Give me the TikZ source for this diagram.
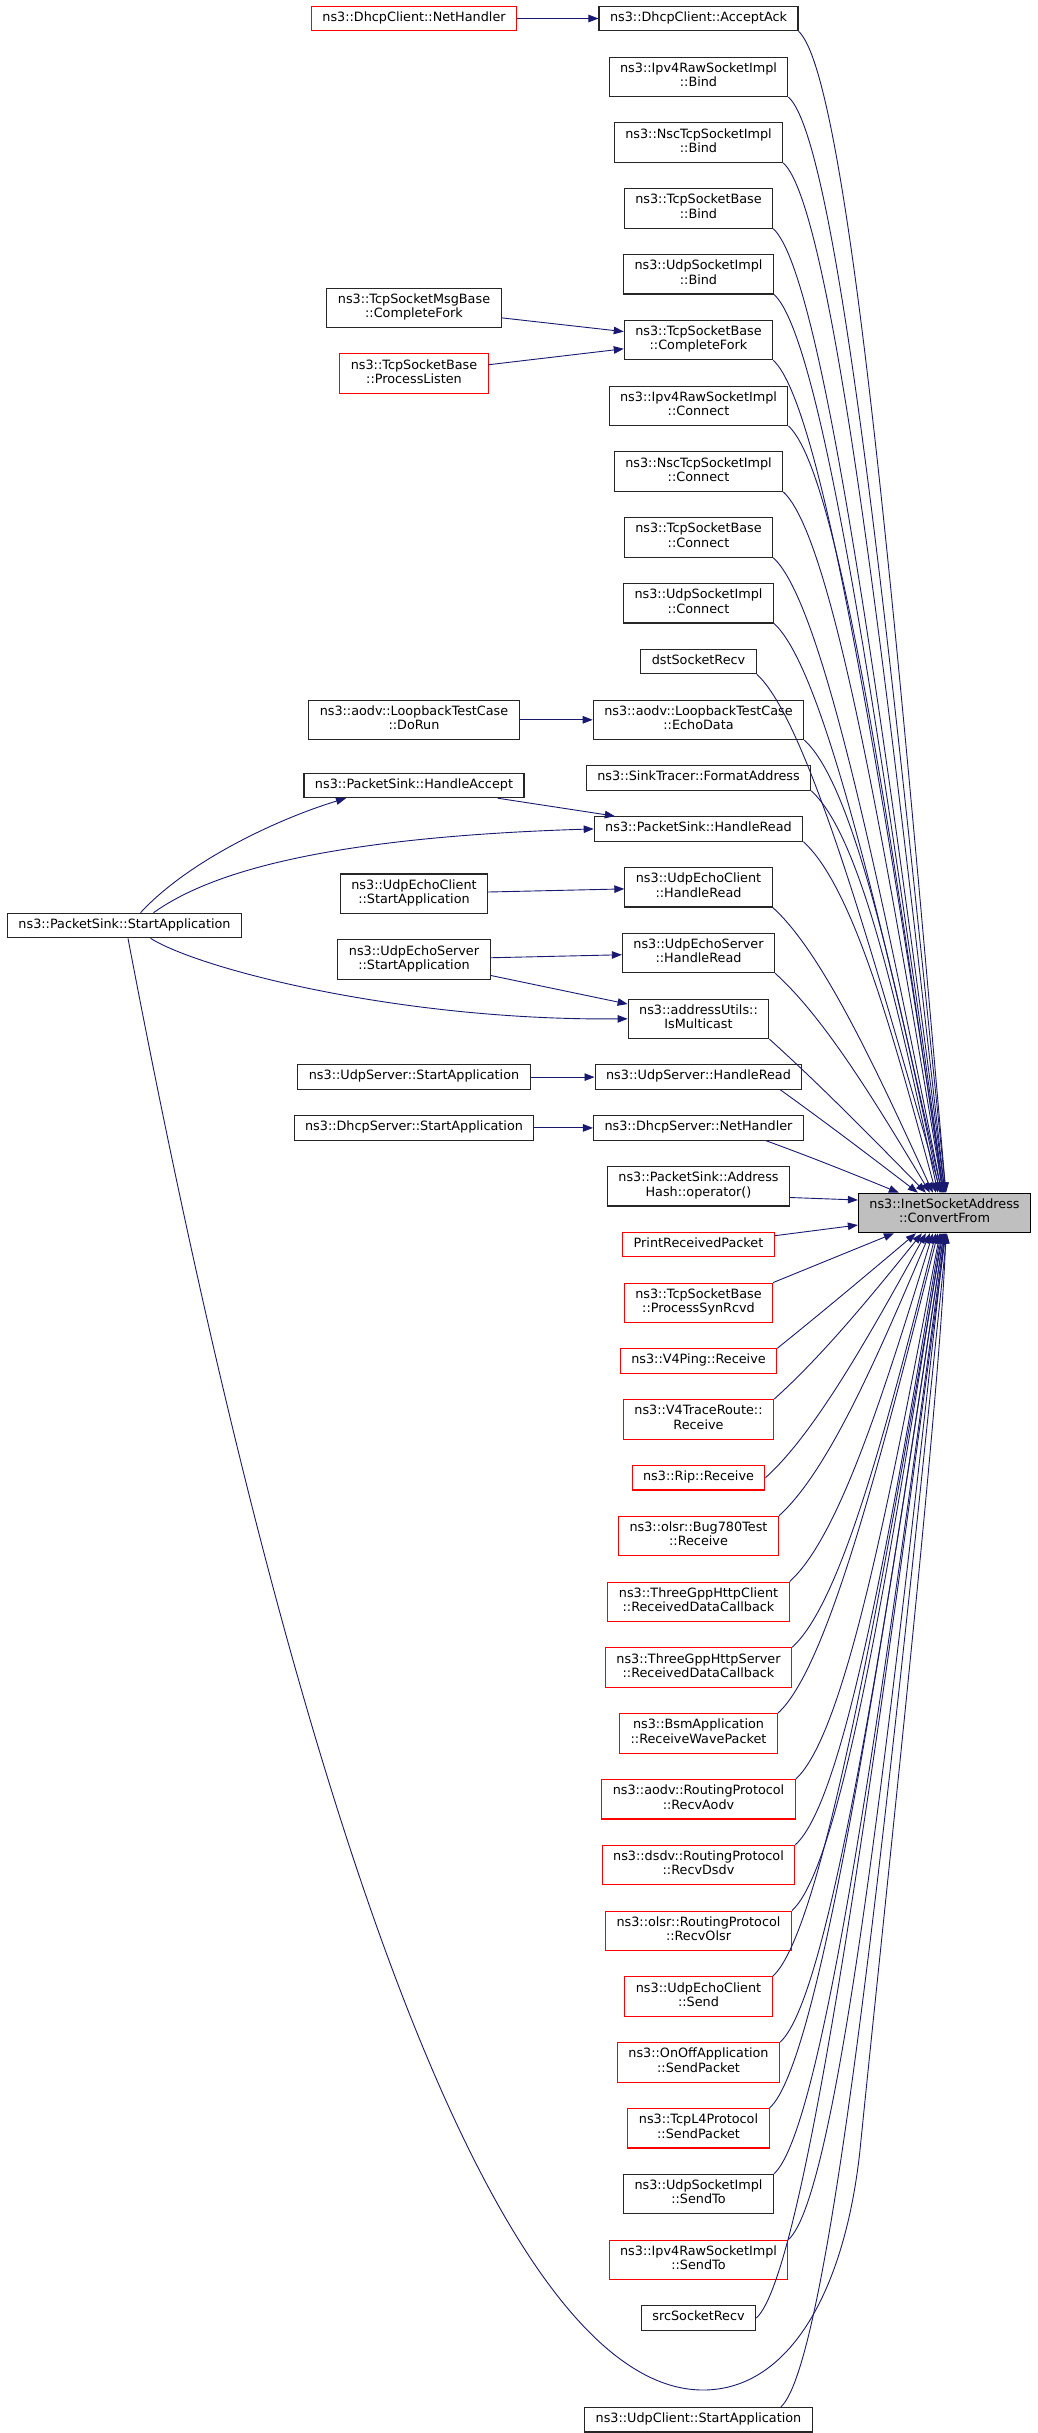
\documentclass[tikz,border=0pt]{standalone}
\usepackage{fontspec}
\setmainfont{DejaVu Sans}
\usetikzlibrary{arrows.meta,positioning,calc}
\definecolor{midnightblue}{HTML}{191970}
\definecolor{grey75}{HTML}{BFBFBF}

% caller -> ConvertFrom: short bend at the caller, then a long sweep
\newcommand\callcurve[2]{%
  \draw[call] let \p1=(#1), \p2=(#2),
    \n1={max(-45,min(45,0.35*(\y2-\y1)))} in
    (\p1) .. controls (\x1+50pt,\y1+\n1)
    and ({(\x1+50pt+\x2)/2},{(\y1+\n1+\y2)/2}) .. (\p2);}

\begin{document}
\begin{tikzpicture}[->,>={Triangle[length=10pt,width=7.5pt]},x=1pt,y=-1pt,node distance=25.2pt]
\tikzstyle{fn}=[draw=black!85,fill=white,line width=1.1pt,align=center,inner xsep=11pt,inner ysep=5pt,
  minimum height=24.5pt,font=\fontsize{12.8}{14.3}\selectfont,
  execute at begin node=\strut,execute at end node=\strut]
\tikzstyle{twoline}=[minimum height=39.5pt]
\tikzstyle{truncated}=[draw=red]
\tikzstyle{current}=[fill=grey75,draw=black]
\tikzstyle{call}=[draw=midnightblue,line width=0.9pt]
\useasboundingbox (0,0) rectangle (1037,2433);

% callers of ConvertFrom
\node[fn] (acceptack) at (698.5,18.5) {ns3::DhcpClient::AcceptAck};
\node[fn,twoline] [below=of acceptack] (ipv4bind) {ns3::Ipv4RawSocketImpl\\::Bind};
\node[fn,twoline] [below=of ipv4bind] (nscbind) {ns3::NscTcpSocketImpl\\::Bind};
\node[fn,twoline] [below=of nscbind] (tcpbind) {ns3::TcpSocketBase\\::Bind};
\node[fn,twoline] [below=of tcpbind] (udpbind) {ns3::UdpSocketImpl\\::Bind};
\node[fn,twoline] [below=of udpbind] (tcpfork) {ns3::TcpSocketBase\\::CompleteFork};
\node[fn,twoline] [below=of tcpfork] (ipv4conn) {ns3::Ipv4RawSocketImpl\\::Connect};
\node[fn,twoline] [below=of ipv4conn] (nscconn) {ns3::NscTcpSocketImpl\\::Connect};
\node[fn,twoline] [below=of nscconn] (tcpconn) {ns3::TcpSocketBase\\::Connect};
\node[fn,twoline] [below=of tcpconn] (udpconn) {ns3::UdpSocketImpl\\::Connect};
\node[fn] [below=of udpconn] (dstrecv) {dstSocketRecv};
\node[fn,twoline] [below=of dstrecv] (echodata) {ns3::aodv::LoopbackTestCase\\::EchoData};
\node[fn] [below=of echodata] (formataddr) {ns3::SinkTracer::FormatAddress};
\node[fn] [below=of formataddr] (sinkread) {ns3::PacketSink::HandleRead};
\node[fn,twoline] [below=of sinkread] (eclread) {ns3::UdpEchoClient\\::HandleRead};
\node[fn,twoline] [below=of eclread] (esvread) {ns3::UdpEchoServer\\::HandleRead};
\node[fn,twoline] [below=of esvread] (ismcast) {ns3::addressUtils::\\IsMulticast};
\node[fn] [below=of ismcast] (svread) {ns3::UdpServer::HandleRead};
\node[fn] [below=of svread] (dhcpsvnet) {ns3::DhcpServer::NetHandler};
\node[fn,twoline] [below=of dhcpsvnet] (addrhash) {ns3::PacketSink::Address\\Hash::operator()};
\node[fn,truncated] [below=of addrhash] (printrp) {PrintReceivedPacket};
\node[fn,twoline,truncated] [below=of printrp] (synrcvd) {ns3::TcpSocketBase\\::ProcessSynRcvd};
\node[fn,truncated] [below=of synrcvd] (v4ping) {ns3::V4Ping::Receive};
\node[fn,twoline,truncated] [below=of v4ping] (v4trace) {ns3::V4TraceRoute::\\Receive};
\node[fn,truncated] [below=of v4trace] (riprecv) {ns3::Rip::Receive};
\node[fn,twoline,truncated] [below=of riprecv] (bug780) {ns3::olsr::Bug780Test\\::Receive};
\node[fn,twoline,truncated] [below=of bug780] (httpcl) {ns3::ThreeGppHttpClient\\::ReceivedDataCallback};
\node[fn,twoline,truncated] [below=of httpcl] (httpsv) {ns3::ThreeGppHttpServer\\::ReceivedDataCallback};
\node[fn,twoline,truncated] [below=of httpsv] (bsmrecv) {ns3::BsmApplication\\::ReceiveWavePacket};
\node[fn,twoline,truncated] [below=of bsmrecv] (aodvrecv) {ns3::aodv::RoutingProtocol\\::RecvAodv};
\node[fn,twoline,truncated] [below=of aodvrecv] (dsdvrecv) {ns3::dsdv::RoutingProtocol\\::RecvDsdv};
\node[fn,twoline,truncated] [below=of dsdvrecv] (olsrrecv) {ns3::olsr::RoutingProtocol\\::RecvOlsr};
\node[fn,twoline,truncated] [below=of olsrrecv] (eclsend) {ns3::UdpEchoClient\\::Send};
\node[fn,twoline,truncated] [below=of eclsend] (onoffsend) {ns3::OnOffApplication\\::SendPacket};
\node[fn,twoline,truncated] [below=of onoffsend] (tcpl4send) {ns3::TcpL4Protocol\\::SendPacket};
\node[fn,twoline] [below=of tcpl4send] (udpsendto) {ns3::UdpSocketImpl\\::SendTo};
\node[fn,twoline,truncated] [below=of udpsendto] (ipv4sendto) {ns3::Ipv4RawSocketImpl\\::SendTo};
\node[fn] [below=of ipv4sendto] (srcrecv) {srcSocketRecv};
\node[fn] [below=76pt of srcrecv] (udpclstart) {ns3::UdpClient::StartApplication};

% second level callers
\coordinate (leftcol) at (414,0);
\node[fn,truncated] (dhcpclnet) at (leftcol |- acceptack) {ns3::DhcpClient::NetHandler};
\node[fn,twoline] (msgfork) at ($(leftcol |- tcpfork)+(0,-32)$) {ns3::TcpSocketMsgBase\\::CompleteFork};
\node[fn,twoline,truncated] (listen) at ($(leftcol |- tcpfork)+(0,33.5)$) {ns3::TcpSocketBase\\::ProcessListen};
\node[fn,twoline] (dorun) at (leftcol |- echodata) {ns3::aodv::LoopbackTestCase\\::DoRun};
\node[fn] (sinkaccept) at ($(leftcol |- sinkread)+(0,-43.5)$) {ns3::PacketSink::HandleAccept};
\node[fn,twoline] (eclstart) at ($(leftcol |- eclread)+(0,6.5)$) {ns3::UdpEchoClient\\::StartApplication};
\node[fn,twoline] (esvstart) at ($(leftcol |- esvread)+(0,6.5)$) {ns3::UdpEchoServer\\::StartApplication};
\node[fn] (svstart) at (leftcol |- svread) {ns3::UdpServer::StartApplication};
\node[fn] (dhcpsvstart) at (leftcol |- dhcpsvnet) {ns3::DhcpServer::StartApplication};
\node[fn] (sinkstart) at (124.5,925.5) {ns3::PacketSink::StartApplication};
\node[fn,twoline,current] (cf) at (944.5,1213) {ns3::InetSocketAddress\\::ConvertFrom};

\draw[call] (dhcpclnet) -- (acceptack);
\draw[call] (msgfork) -- (tcpfork);
\draw[call] (listen) -- (tcpfork);
\draw[call] (dorun) -- (echodata);
\draw[call] (sinkaccept) -- (sinkread);
\draw[call] (eclstart) -- (eclread);
\draw[call] (esvstart) -- (esvread);
\draw[call] (esvstart) -- (ismcast);
\draw[call] (svstart) -- (svread);
\draw[call] (dhcpsvstart) -- (dhcpsvnet);
\draw[call] ($(sinkstart.north)+(16,0)$) .. controls +(49,-53) and +(-66,20) .. ($(sinkaccept.south)+(-68,0)$);
\draw[call] ($(sinkstart.north)+(29,0)$) .. controls +(46.5,-33) and +(-293,9) .. (sinkread.west);
\draw[call] ($(sinkstart.south)+(26,0)$) .. controls +(49.5,31) and +(-227,2) .. (ismcast.west);
\draw[call] ($(sinkstart.south)+(3.5,0)$) .. controls +(171,900) and (503,2390) .. (703,2390)
  .. controls (790,2390) and (845,2290) .. (860,2150)
  .. controls (885,1900) and (940,1400) .. ($(cf.south west)+(88,0)$);

% into ConvertFrom from above
\foreach \src/\dx in {acceptack/88,ipv4bind/88,nscbind/87,tcpbind/87,udpbind/86,tcpfork/86,
  ipv4conn/85,nscconn/85,tcpconn/84,udpconn/84,dstrecv/83,echodata/82,formataddr/80,
  sinkread/78,eclread/75,esvread/72,ismcast/68}
  \callcurve{\src.south east}{$(cf.north west)+(\dx,0)$};
\callcurve{[xshift=-22pt]svread.south east}{$(cf.north west)+(60,0)$}
\callcurve{[xshift=-38pt]dhcpsvnet.south east}{$(cf.north west)+(41,0)$}
\draw[call] ($(addrhash.south east)+(0,-9)$) -- ($(cf.west)+(0,-13)$);

% into ConvertFrom from below
\draw[call] ($(printrp.north east)+(0,4)$) -- ($(cf.west)+(0,12)$);
\draw[call] (synrcvd.north east) -- ($(cf.south west)+(36,0)$);
\foreach \src/\dx in {v4ping/58,v4trace/64,bug780/72,httpcl/75,httpsv/78,bsmrecv/80,
  aodvrecv/82,dsdvrecv/83,olsrrecv/84,eclsend/85,onoffsend/86,tcpl4send/86,
  udpsendto/87,ipv4sendto/87}
  \callcurve{\src.north east}{$(cf.south west)+(\dx,0)$};
\callcurve{riprecv.east}{$(cf.south west)+(68,0)$}
\callcurve{srcrecv.east}{$(cf.south west)+(88,0)$}
\callcurve{[xshift=-32pt]udpclstart.north east}{$(cf.south west)+(89,0)$}
\end{tikzpicture}
\end{document}
